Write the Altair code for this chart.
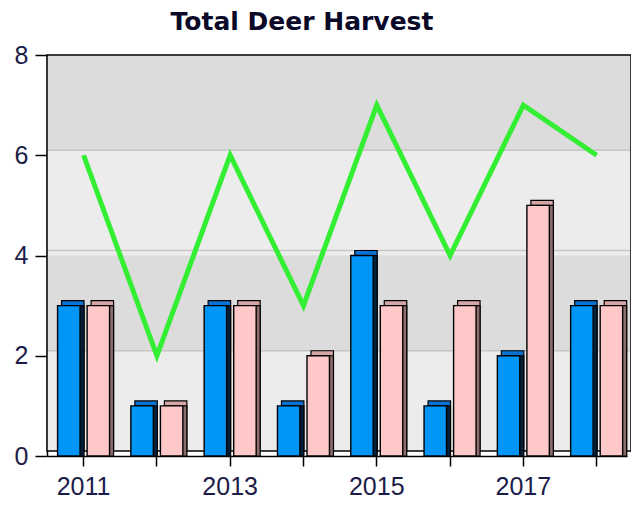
import altair as alt
import pandas as pd

# ---- data ----
years = ["2011", "2012", "2013", "2014", "2015", "2016", "2017", "2018"]
series_names = ["Bucks", "Does"]
bucks = [3, 1, 3, 1, 4, 1, 2, 3]
does = [3, 1, 3, 2, 3, 3, 5, 3]
total = [6, 2, 6, 3, 7, 4, 7, 6]

band_lo = [0, 2, 4, 6]
band_hi = [2, 4, 6, 8]
band_shade = ["light", "dark", "light", "dark"]
grid_vals = [2, 4, 6]

bars_df = pd.DataFrame(
    {
        "year": years * 2,
        "series": [series_names[0]] * len(years) + [series_names[1]] * len(years),
        "value": bucks + does,
    }
)
line_df = pd.DataFrame({"year": years, "value": total})
band_df = pd.DataFrame({"value": band_lo, "hi": band_hi, "shade": band_shade})
grid_df = pd.DataFrame({"value": grid_vals})

LABEL_COLOR = "#1c1c4a"

x_axis = alt.Axis(
    title=None,
    labelAngle=0,
    labelExpr="toNumber(datum.value) % 2 == 1 ? datum.label : ''",
    labelFont="Liberation Sans",
    labelFontSize=25,
    labelColor=LABEL_COLOR,
    labelPadding=8,
    tickSize=10,
    tickColor="black",
    tickWidth=1.5,
    domainColor="black",
    domainWidth=1.5,
)
x_enc = alt.X(
    "year:N",
    sort=years,
    scale=alt.Scale(paddingInner=0.29, paddingOuter=0.1015, align=0.71),
    axis=x_axis,
)
y_scale = alt.Scale(domain=[0, 8], nice=False)
y_axis = alt.Axis(
    title=None,
    values=[0, 2, 4, 6, 8],
    grid=False,
    labelFont="Liberation Sans",
    labelFontSize=25,
    labelColor=LABEL_COLOR,
    labelPadding=7,
    tickSize=12,
    tickColor="black",
    tickWidth=1.5,
    domainColor="black",
    domainWidth=1.5,
)
y_enc = alt.Y("value:Q", scale=y_scale, axis=y_axis)

# back wall (shifted up/right for the 3D look)
wall = (
    alt.Chart(band_df)
    .mark_rect(xOffset=4, yOffset=-5, color="#ececec")
    .encode(y=alt.Y("min(value):Q", scale=y_scale, axis=y_axis), y2="max(hi):Q")
)

dark_bands = (
    alt.Chart(band_df)
    .transform_filter(alt.datum.shade == "dark")
    .mark_rect(xOffset=4, yOffset=-5, color="#dcdcdc")
    .encode(y=y_enc, y2="hi:Q")
)

grid = (
    alt.Chart(grid_df)
    .mark_rule(color="#c6c6c6", strokeWidth=1.5, xOffset=4, yOffset=-5)
    .encode(y=y_enc)
)

frame = (
    alt.Chart(band_df)
    .mark_rect(xOffset=4, yOffset=-5, fillOpacity=0, stroke="black", strokeWidth=1.5)
    .encode(y=alt.Y("min(value):Q", scale=y_scale, axis=y_axis), y2="max(hi):Q")
)


def xoff(shift):
    return alt.XOffset(
        "series:N",
        sort=series_names,
        scale=alt.Scale(domain=series_names, paddingInner=0.24, range=[shift, 52 + shift]),
    )


def bar_layer(shift, yoff, colors, sw):
    return (
        alt.Chart(bars_df)
        .mark_bar(yOffset=yoff, stroke="black", strokeWidth=sw)
        .encode(
            x=x_enc,
            xOffset=xoff(shift),
            y=y_enc,
            color=alt.Color(
                "series:N",
                scale=alt.Scale(domain=series_names, range=colors),
                legend=None,
            ),
        )
    )


bar_top = bar_layer(4, -5, ["#0a72d2", "#d6a6a6"], 1.2)
bar_side = bar_layer(4, 0, ["#00203c", "#8c6c6c"], 1.2)
bar_face = bar_layer(0, 0, ["#0096f8", "#ffc8c8"], 1.4)

line = (
    alt.Chart(line_df)
    .mark_line(color="#33ee33", strokeWidth=5, strokeJoin="miter")
    .encode(x=x_enc, y=y_enc)
)

chart = (
    alt.layer(wall, dark_bands, grid, frame, bar_top, bar_side, bar_face, line)
    .resolve_scale(color="independent", xOffset="independent")
    .properties(
        width=580,
        height=401,
        title=alt.TitleParams(
            "Total Deer Harvest",
            font="DejaVu Sans",
            fontWeight="bold",
            fontSize=25,
            color="#0a0a28",
            anchor="middle",
            frame="group",
            baseline="top",
            offset=8,
            dx=-35,
        ),
        autosize=alt.AutoSizeParams(type="none"),
        padding={"left": 39, "top": 47, "right": 4, "bottom": 46},
    )
    .configure_view(stroke="transparent", fill="#f2f2f2")
    .configure(background="white")
)

chart.save("out.html", embed_options={"renderer": "svg", "actions": False})
